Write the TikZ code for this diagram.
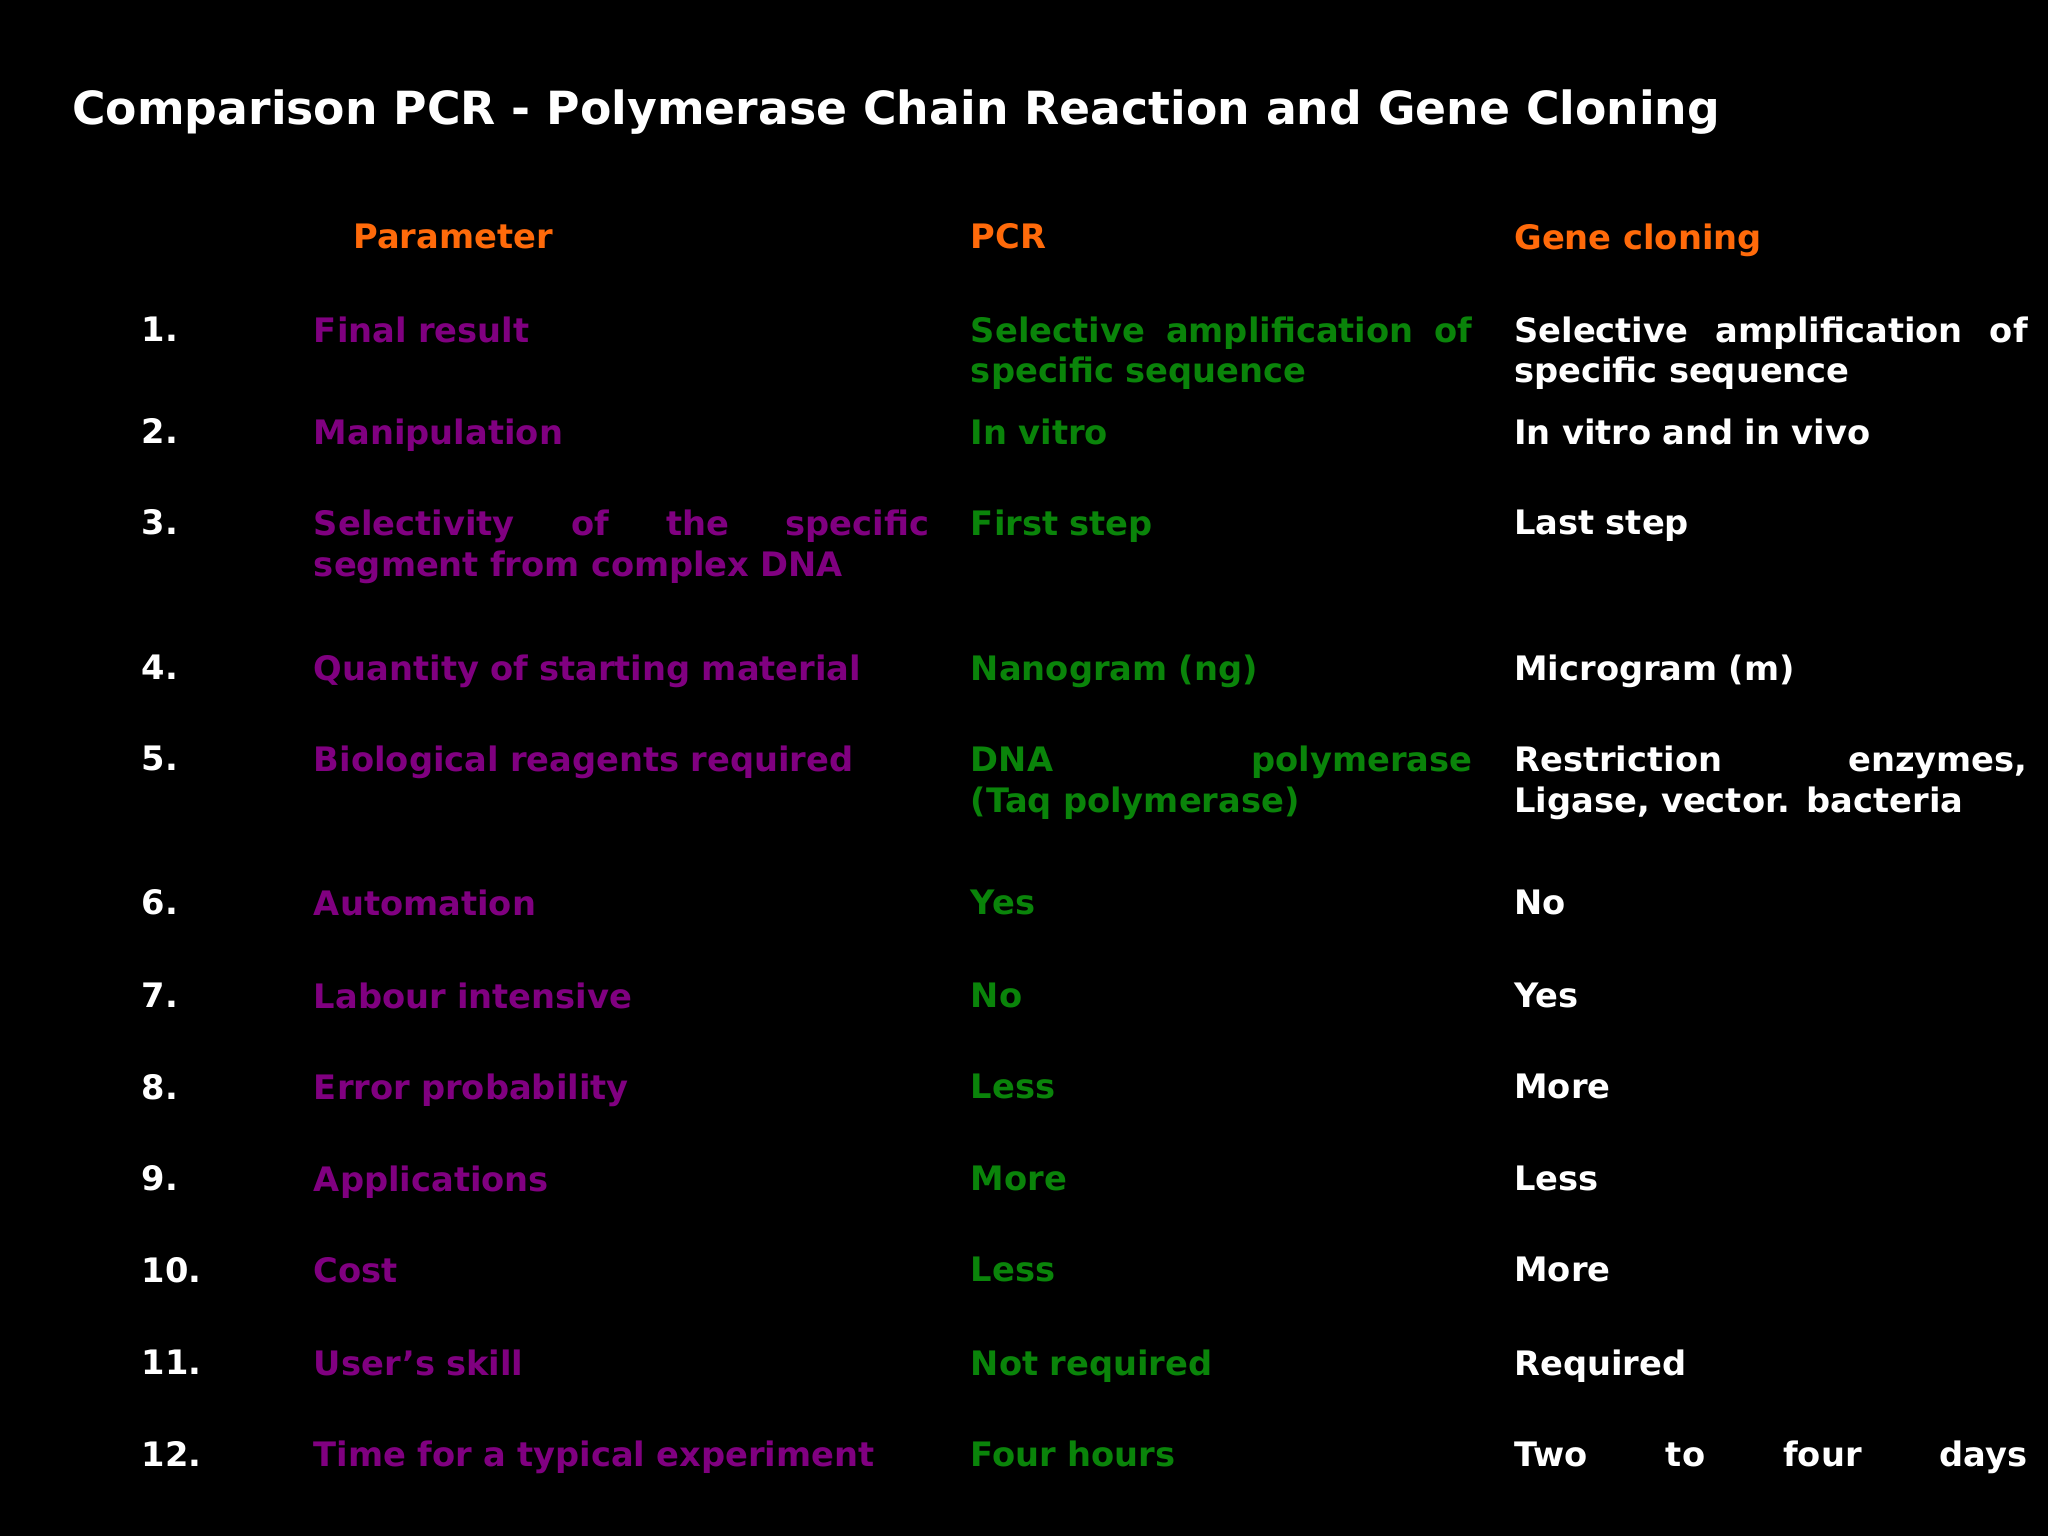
\documentclass[tikz,border=0pt]{standalone}
\usepackage{fontspec}
\setmainfont{DejaVu Sans}
\newcommand{\spreadline}[2]{\hbox to #1{#2}}
\begin{document}
\begin{tikzpicture}[x=0.5pt,y=-0.5pt,
 cell/.style={anchor=north west,inner sep=0pt,font=\bfseries\fontsize{12.9}{15.5}\selectfont,align=left},
 num/.style={cell,text=white},
 par/.style={cell,text=purp,text width=235.5pt},
 pcr/.style={cell,text=grn,text width=192pt},
 gen/.style={cell,text=white,text width=196.5pt},
 hd/.style={cell,text=orng}]
\definecolor{purp}{HTML}{800080}\definecolor{grn}{HTML}{0A840A}\definecolor{orng}{HTML}{FF6A0A}
\fill[black] (0,0) rectangle (1568,1176);
\useasboundingbox (0,0) rectangle (1568,1176);
\node[anchor=west,inner sep=0pt,text=white,font=\bfseries\fontsize{17.5}{21}\selectfont] (title) at (55,86) {Comparison PCR - Polymerase Chain Reaction and Gene Cloning};
\node[hd] (h1) at (270,171) {Parameter};
\node[hd] (h2) at (743,171) {PCR};
\node[hd] (h3) at (1159,171) {Gene cloning};
\foreach \n/\y/\a/\b/\c in {
 1/242/{Final result}/{\spreadline{192pt}{Selective\hfill amplification\hfill of}\\specific sequence}/{\spreadline{196.5pt}{Selective\hfill amplification\hfill of}\\specific sequence},
 2/320/{Manipulation}/{In vitro}/{In vitro and in vivo},
 3/390/{\spreadline{235.5pt}{Selectivity\hfill of\hfill the\hfill specific}\\segment from complex DNA}/{First step}/{Last step},
 4/501/{Quantity of starting material}/{Nanogram (ng)}/{Microgram (m)},
 5/571/{Biological reagents required}/{\spreadline{192pt}{DNA\hfill polymerase}\\(Taq polymerase)}/{\spreadline{196.5pt}{Restriction\hfill enzymes,}\\Ligase, vector. bacteria},
 6/681/{Automation}/{Yes}/{No},
 7/752/{Labour intensive}/{No}/{Yes},
 8/822/{Error probability}/{Less}/{More},
 9/892/{Applications}/{More}/{Less},
 10/962/{Cost}/{Less}/{More},
 11/1033/{User’s skill}/{Not required}/{Required}}{
 \node[num] (n\n) at (108,\y) {\n.};
 \node[par] (p\n) at (240,\y) {\a};
 \node[pcr] (q\n) at (743,\y) {\b};
 \node[gen] (g\n) at (1159,\y) {\c};
}
\node[num] (n12) at (108,1103) {12.};
\node[par] (p12) at (240,1103) {Time for a typical experiment};
\node[pcr] (q12) at (743,1103) {Four hours};
\node[gen] (g12) at (1159,1103) {\spreadline{196.5pt}{Two\hfill to\hfill four\hfill days}};
\end{tikzpicture}
\end{document}
